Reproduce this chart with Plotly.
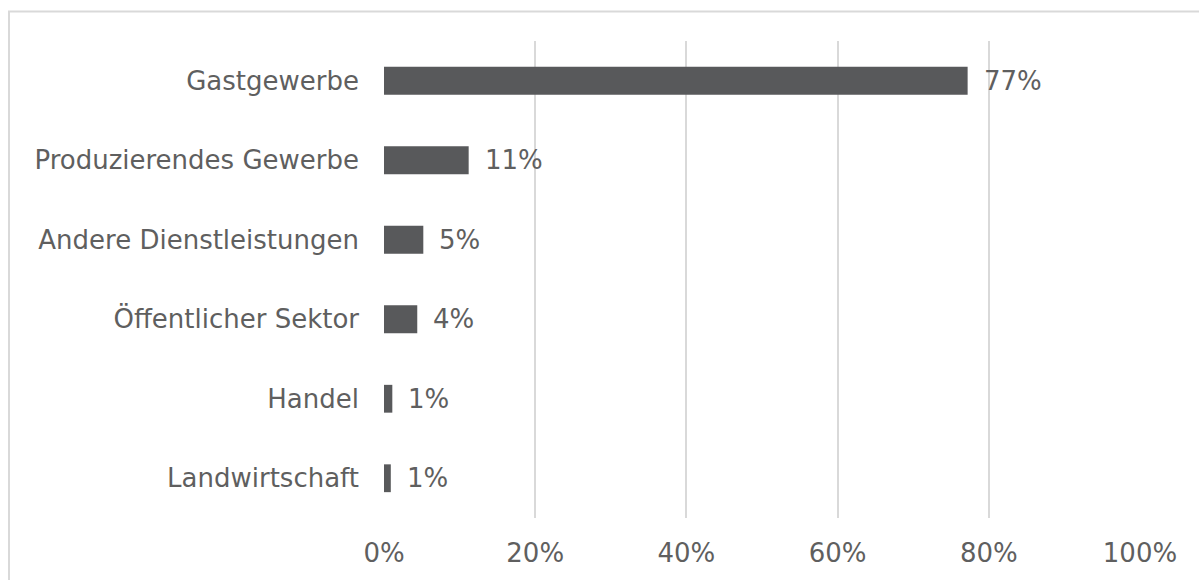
import plotly.graph_objects as go

categories = ["Landwirtschaft", "Handel", "Öffentlicher Sektor", "Andere Dienstleistungen",
              "Produzierendes Gewerbe", "Gastgewerbe"]
values = [0.9, 1.1, 4.4, 5.2, 11.2, 77.2]
x_ticks = [0, 20, 40, 60, 80, 100]
x_tick_labels = ["0%", "20%", "40%", "60%", "80%", "100%"]

FONT = "DejaVu Sans, Verdana, sans-serif"
TXT = "#5F5F5F"
BAR = "#58595B"

fig = go.Figure()
fig.add_trace(go.Bar(
    y=categories, x=values, orientation="h",
    marker=dict(color=BAR, line=dict(width=0)),
    width=0.35, hoverinfo="skip",
))

annotations = []
for c, v in zip(categories, values):
    annotations.append(dict(
        x=v, y=c, xref="x", yref="y", text=f"{round(v)}%",
        showarrow=False, xanchor="left", yanchor="middle", xshift=14,
        font=dict(family=FONT, size=26, color=TXT),
    ))

fig.update_layout(
    width=1199, height=580,
    margin=dict(l=384, r=59, t=41, b=60),
    paper_bgcolor="white", plot_bgcolor="white",
    showlegend=False,
    annotations=annotations,
    font=dict(family=FONT, size=26, color=TXT),
    bargap=0.65,
    shapes=[dict(type="rect", xref="paper", yref="paper",
                 x0=(9 - 384) / 756, x1=(1215 - 384) / 756,
                 y0=(520 - 600) / 479, y1=(520 - 11.5) / 479,
                 line=dict(color="#D9D9D9", width=2), fillcolor="rgba(0,0,0,0)", layer="below")],
)
fig.update_xaxes(
    range=[0, 100], tickvals=x_ticks, ticktext=x_tick_labels,
    showgrid=True, gridcolor="#D9D9D9", gridwidth=1.5,
    zeroline=False, showline=False,
    tickfont=dict(family=FONT, size=26, color=TXT),
    ticklabelstandoff=17,
)
fig.update_yaxes(
    categoryorder="array", categoryarray=categories,
    showgrid=False, zeroline=False, showline=False,
    tickfont=dict(family=FONT, size=26, color=TXT),
    ticklabelstandoff=24,
)

fig.write_html("out.html")
